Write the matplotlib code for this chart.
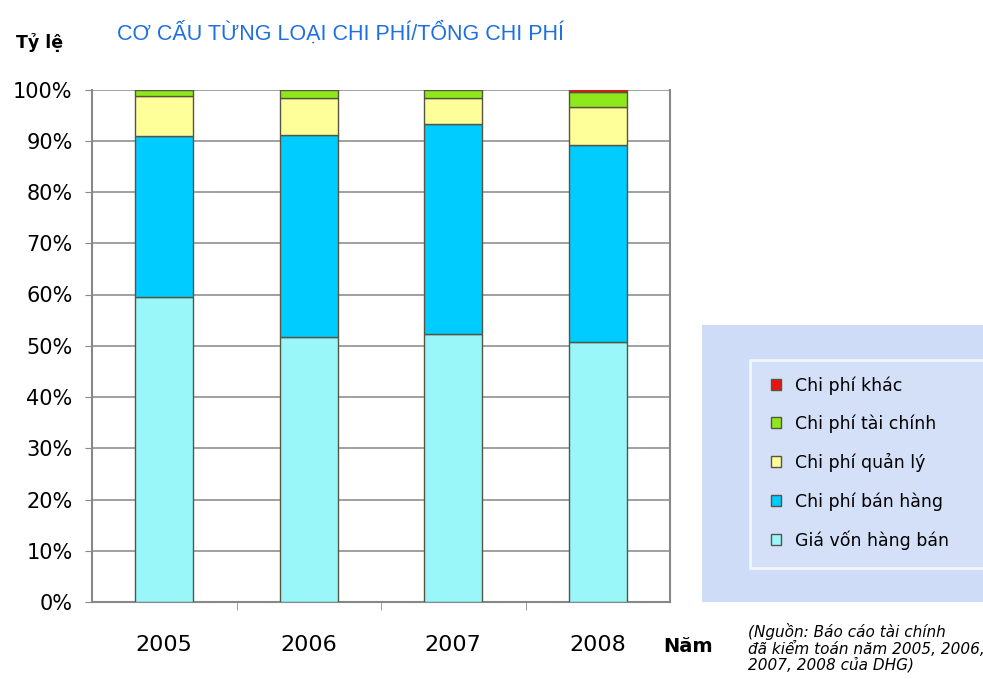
import matplotlib.pyplot as plt
import matplotlib.patches as mpatches
import numpy as np

plt.rcParams['font.family'] = ['DejaVu Sans']

# chi phi structure by year, % of total
years = ['2005', '2006', '2007', '2008']
gia_von = [59.5, 51.7, 52.2, 50.7]
ban_hang = [31.4, 39.5, 41.0, 38.4]
quan_ly = [7.8, 7.2, 5.2, 7.5]
tai_chinh = [1.3, 1.6, 1.6, 3.0]
khac = [0.0, 0.0, 0.0, 0.4]

series = [
    ('Giá vốn hàng bán', gia_von, '#99f7fa'),
    ('Chi phí bán hàng', ban_hang, '#00ccff'),
    ('Chi phí quản lý', quan_ly, '#ffff99'),
    ('Chi phí tài chính', tai_chinh, '#8fe81a'),
    ('Chi phí khác', khac, '#ee1111'),
]

fig = plt.figure(figsize=(9.83, 6.79), dpi=100)
ax = fig.add_axes([92 / 983, 1 - 602 / 679, 578 / 983, 512.5 / 679])

x = np.arange(len(years))
bottom = np.zeros(len(years))
handles = []
for label, vals, col in series:
    b = ax.bar(x, vals, 0.4, bottom=bottom, color=col, edgecolor='#555544',
               linewidth=1.0, label=label, zorder=3)
    handles.append(b)
    bottom += np.array(vals)

ax.set_xlim(-0.5, len(years) - 0.5)
ax.set_ylim(0, 100)
ax.set_yticks(np.arange(0, 101, 10))
ax.set_yticklabels([f'{v}%' for v in range(0, 101, 10)], fontsize=15)
ax.yaxis.grid(True, color='#a0a0a0', linewidth=1.4, zorder=0)
ax.set_xticks(x)
ax.set_xticklabels(years, fontsize=16)
ax.set_xticks(np.arange(0.5, len(years) - 1, 1), minor=True)
ax.tick_params(axis='x', which='major', length=0, pad=24)
ax.tick_params(axis='x', which='minor', length=6, color='#888888', direction='out')
ax.tick_params(axis='y', length=5, color='#888888', pad=9)
for s in ['left', 'bottom', 'right']:
    ax.spines[s].set_color('#888888')
    ax.spines[s].set_linewidth(1.5)
ax.spines['top'].set_visible(False)

fig.text(117 / 983, 1 - 33 / 679, 'CƠ CẤU TỪNG LOẠI CHI PHÍ/TỔNG CHI PHÍ',
         color='#1f6fe0', fontsize=15.5, family='Liberation Sans',
         va='center', ha='left')
fig.text(40 / 983, 1 - 43 / 679, 'Tỷ lệ', fontsize=12.5, fontweight='bold',
         va='center', ha='center')
fig.text(688 / 983, 1 - 646 / 679, 'Năm', fontsize=14, fontweight='bold',
         va='center', ha='center')
fig.text(748 / 983, 1 - 648 / 679,
         '(Nguồn: Báo cáo tài chính\nđã kiểm toán năm 2005, 2006,\n2007, 2008 của DHG)',
         fontsize=11, style='italic', va='center', ha='left', linespacing=1.05)

# shaded panel behind the legend
fig.patches.append(mpatches.Rectangle((702 / 983, 1 - 602 / 679), 281 / 983, 277 / 679,
                                      transform=fig.transFigure, facecolor='#cedcf8',
                                      edgecolor='none', zorder=0))
fig.patches.append(mpatches.Rectangle((750 / 983, 1 - 568 / 679), 240 / 983, 208 / 679,
                                      transform=fig.transFigure, facecolor='#d3e0f8',
                                      edgecolor='#f2f5fc', linewidth=2, zorder=0))

leg = fig.legend(handles[::-1], [s[0] for s in series][::-1], loc='center left',
                 bbox_to_anchor=(755 / 983, 1 - 463 / 679), frameon=False,
                 fontsize=12.5, handlelength=0.6, handleheight=0.6,
                 handletextpad=0.8, labelspacing=1.15)

fig.savefig('out.png', dpi=100)
